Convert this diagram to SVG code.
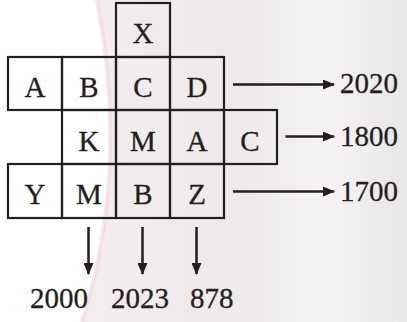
<svg xmlns="http://www.w3.org/2000/svg" width="407" height="322" viewBox="0 0 407 322">
<defs>
<linearGradient id="bg" x1="0" y1="0" x2="1" y2="0">
<stop offset="0" stop-color="#f2eeee"/>
<stop offset="0.5" stop-color="#eeeaea"/>
<stop offset="0.75" stop-color="#f5f3f3"/>
<stop offset="1" stop-color="#e9e6e6"/>
</linearGradient>
<marker id="ah" viewBox="0 0 12 10" refX="11" refY="5" markerWidth="12" markerHeight="10" markerUnits="userSpaceOnUse" orient="auto">
<path d="M0,0 L12,5 L0,10 Z" fill="#231f20"/>
</marker>
<style>
.cell{fill:none;stroke:#231f20;stroke-width:2.2}
.arr{stroke:#231f20;stroke-width:2.5;fill:none;marker-end:url(#ah)}
</style>
</defs>
<rect width="407" height="322" fill="#ffffff"/>
<path d="M97,0 Q130,170 82,322 L407,322 L407,0 Z" fill="url(#bg)"/>
<path d="M97,0 Q130,170 82,322" fill="none" stroke="#f6d4d4" stroke-width="4" opacity="0.6"/>
<g font-family="Liberation Serif, Times New Roman, serif" font-size="29" fill="#231f20" stroke="#231f20" stroke-width="0.3" text-anchor="middle">
<g id="cell-X"><rect class="cell" x="116" y="3" width="54" height="54"/><text x="143" y="43">X</text></g>
<g id="row1">
<g id="cell-A1"><rect class="cell" x="8" y="57" width="54" height="53"/><text x="35" y="97">A</text></g>
<g id="cell-B1"><rect class="cell" x="62" y="57" width="54" height="53"/><text x="89" y="97">B</text></g>
<g id="cell-C1"><rect class="cell" x="116" y="57" width="54" height="53"/><text x="143" y="97">C</text></g>
<g id="cell-D1"><rect class="cell" x="170" y="57" width="54" height="53"/><text x="197" y="97">D</text></g>
</g>
<g id="row2">
<g id="cell-K2"><rect class="cell" x="62" y="110" width="54" height="54"/><text x="89" y="151">K</text></g>
<g id="cell-M2"><rect class="cell" x="116" y="110" width="54" height="54"/><text x="143" y="151">M</text></g>
<g id="cell-A2"><rect class="cell" x="170" y="110" width="54" height="54"/><text x="197" y="151">A</text></g>
<g id="cell-C2"><rect class="cell" x="224" y="110" width="53" height="54"/><text x="250" y="151">C</text></g>
</g>
<g id="row3">
<g id="cell-Y3"><rect class="cell" x="8" y="164" width="54" height="54"/><text x="35" y="204">Y</text></g>
<g id="cell-M3"><rect class="cell" x="62" y="164" width="54" height="54"/><text x="89" y="204">M</text></g>
<g id="cell-B3"><rect class="cell" x="116" y="164" width="54" height="54"/><text x="143" y="204">B</text></g>
<g id="cell-Z3"><rect class="cell" x="170" y="164" width="54" height="54"/><text x="197" y="204">Z</text></g>
</g>
</g>
<g id="connectors">
<line class="arr" x1="233" y1="84.5" x2="334" y2="84.5"/>
<line class="arr" x1="285.5" y1="136.5" x2="334" y2="136.5"/>
<line class="arr" x1="233" y1="191.5" x2="334" y2="191.5"/>
<line class="arr" x1="88.5" y1="227" x2="88.5" y2="274"/>
<line class="arr" x1="142.5" y1="227" x2="142.5" y2="274"/>
<line class="arr" x1="196.5" y1="227" x2="196.5" y2="274"/>
</g>
<g id="labels" font-family="Liberation Serif, Times New Roman, serif" font-size="29" fill="#231f20" stroke="#231f20" stroke-width="0.3">
<text x="340" y="93">2020</text>
<text x="340" y="146">1800</text>
<text x="340" y="201">1700</text>
<text x="30" y="308">2000</text>
<text x="111" y="308">2023</text>
<text x="190" y="308">878</text>
</g>
</svg>
